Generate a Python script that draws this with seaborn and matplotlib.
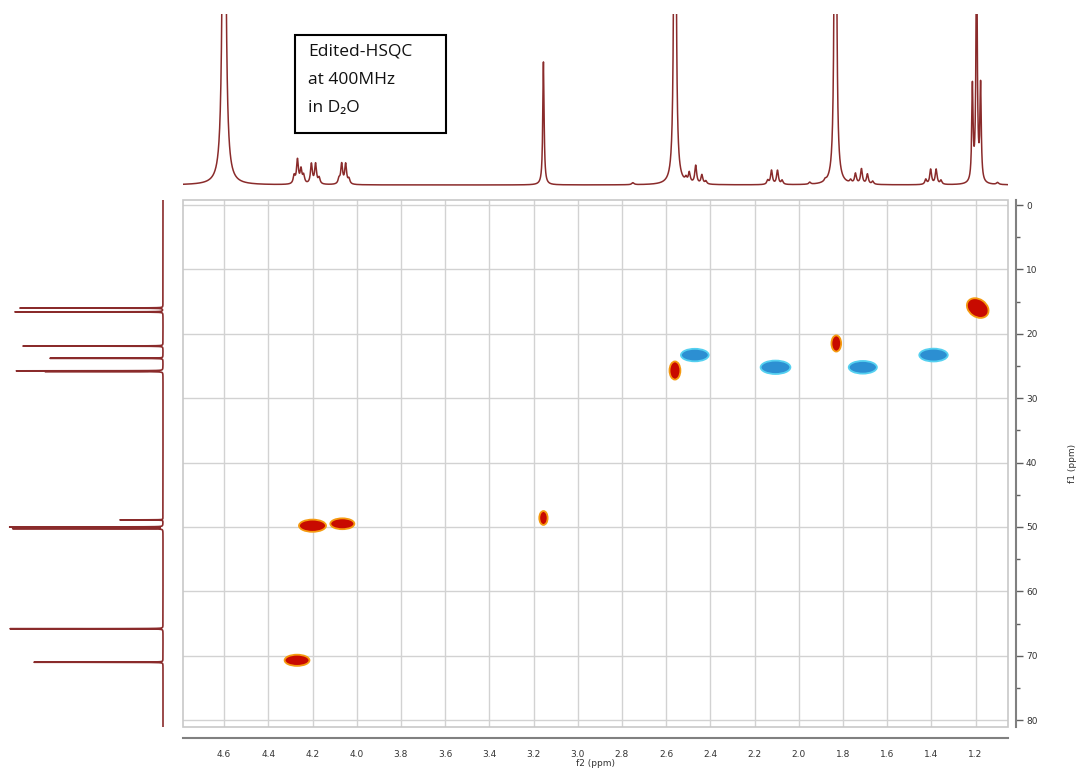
import numpy as np
import pandas as pd
import matplotlib
matplotlib.use('Agg')
import matplotlib.pyplot as plt
from matplotlib.path import Path
from matplotlib.patches import Rectangle
from matplotlib.transforms import Affine2D
from matplotlib.ticker import MultipleLocator
import seaborn as sns

# 1H projection (top trace): line positions (ppm), heights, half widths (ppm)
h_shift = [4.600, 4.283, 4.268, 4.252, 4.240, 4.205, 4.186, 4.170, 4.080, 4.068, 4.050, 4.035,
           3.155, 2.750, 2.560, 2.510, 2.495, 2.466, 2.438, 2.420, 2.140, 2.123, 2.096, 2.075,
           1.950, 1.880, 1.834, 1.765, 1.743, 1.716, 1.689, 1.665, 1.425, 1.403, 1.378, 1.356,
           1.214, 1.195, 1.177, 1.100]
h_height = [700, 8, 24, 14, 8, 20, 20, 6, 5, 20, 20, 5,
            123, 2, 900, 4, 10, 18, 9, 3, 4, 14, 14, 4,
            2, 2, 900, 3, 10, 15, 10, 3, 5, 15, 15, 4,
            95, 240, 95, 2]
h_width = [0.006] + [0.005] * 11 + [0.0035, 0.006, 0.0035] + [0.005] * 11 + [0.0035] + [0.005] * 9 + [0.0035] * 3 + [0.006]

# 13C projection (left trace)
c_shift = [16.0, 16.6, 21.9, 23.8, 25.75, 25.85, 48.9, 50.0, 50.25, 65.8, 71.0]
c_height = [143, 148, 140, 113, 145, 116, 43, 153, 150, 153, 129]

# HSQC cross peaks
xp_f2 = [1.19, 1.83, 2.56, 2.47, 2.105, 1.71, 1.39, 4.20, 4.065, 3.155, 4.27]
xp_f1 = [16.0, 21.5, 25.7, 23.3, 25.2, 25.2, 23.3, 49.8, 49.5, 48.6, 70.7]
xp_phase = ['pos', 'pos', 'pos', 'neg', 'neg', 'neg', 'neg', 'pos', 'pos', 'pos', 'pos']
xp_shape = ['tilt', 'tall', 'tall', 'wide', 'wide', 'wide', 'wide', 'wide', 'wide', 'tall', 'wide']
xp_size = [260, 135, 170, 400, 460, 410, 420, 380, 300, 100, 320]

W, H = 1076, 771


def px_box(x0, y0, x1, y1):
    return [x0 / W, 1 - y1 / H, (x1 - x0) / W, (y1 - y0) / H]


def lorentz(grid, pos, hgt, wid):
    out = np.zeros_like(grid)
    for p, h, w in zip(pos, hgt, wid):
        out += h * w ** 2 / ((grid - p) ** 2 + w ** 2)
    return out


sns.set_style('white')
plt.rcParams['font.family'] = ['DejaVu Sans']

fig = plt.figure(figsize=(W / 100, H / 100), dpi=100)
line_col = '#8a2b2b'

x_lim = (4.786, 1.053)
y_lim = (81.06, -0.78)

# main 2D panel
ax = fig.add_axes(px_box(183, 200, 1008, 727))

# cross peak markers (ellipses)
circ = Path.unit_circle()
markers = {
    'wide': circ.transformed(Affine2D().scale(1.0, 0.45)),
    'tall': circ.transformed(Affine2D().scale(0.6, 1.0)),
    'tilt': circ.transformed(Affine2D().scale(1.0, 0.75).rotate_deg(-35)),
}
peaks = pd.DataFrame({'f2': xp_f2, 'f1': xp_f1, 'phase': xp_phase,
                      'shape': xp_shape, 'size': xp_size})
phase_cols = {'pos': ('#c80a00', '#f59a10'), 'neg': ('#2c8fd2', '#55d0f0')}
for ph, (face, edge) in phase_cols.items():
    sub = peaks[peaks['phase'] == ph]
    sns.scatterplot(data=sub, x='f2', y='f1', style='shape', markers=markers,
                    size='size', sizes={v: v for v in sub['size']},
                    color=face, edgecolor=edge, linewidth=1.3, legend=False,
                    ax=ax, zorder=3)

ax.set_xlim(*x_lim)
ax.set_ylim(*y_lim)
ax.xaxis.set_major_locator(MultipleLocator(0.2))
ax.xaxis.set_minor_locator(MultipleLocator(0.1))
ax.yaxis.set_major_locator(MultipleLocator(10))
ax.yaxis.set_minor_locator(MultipleLocator(5))
ax.xaxis.set_major_formatter(matplotlib.ticker.FormatStrFormatter('%.1f'))
ax.grid(True, which='major', color='#d2d2d2', lw=1.0)
ax.set_axisbelow(True)

ax.yaxis.tick_right()
for s in ['top', 'left']:
    ax.spines[s].set_visible(False)
ax.spines['bottom'].set_position(('outward', 8))
ax.spines['right'].set_position(('outward', 6))
for s in ['bottom', 'right']:
    ax.spines[s].set_color('#808080')
    ax.spines[s].set_linewidth(1.5)
ax.add_patch(Rectangle((0, 0), 1, 1, transform=ax.transAxes, fill=False,
                       edgecolor='#c8c8c8', lw=1.2, clip_on=False))
ax.tick_params(axis='both', which='major', direction='out', length=5, width=1,
               color='#606060', labelsize=6.5, labelcolor='#333333')
ax.tick_params(axis='both', which='minor', direction='out', length=3, width=1, color='#606060')
ax.tick_params(axis='y', which='both', left=False, right=True, pad=2)
ax.set_xlabel('f2 (ppm)', fontsize=6.5, color='#333333', labelpad=0)
ax.set_ylabel('f1 (ppm)', fontsize=6.5, color='#333333', rotation=90)
ax.yaxis.set_label_position('right')
ax.yaxis.set_label_coords(1.073, 0.5)

# top 1H projection
ax_top = fig.add_axes(px_box(183, 14, 1008, 192))
grid_h = np.arange(x_lim[1], x_lim[0], 0.0004)
proton = pd.DataFrame({'ppm': grid_h, 'int': lorentz(grid_h, h_shift, h_height, h_width)})
sns.lineplot(data=proton, x='ppm', y='int', color=line_col, lw=1.1,
             estimator=None, sort=False, ax=ax_top)
ax_top.set_xlim(*x_lim)
ax_top.set_ylim(-7, 171)
ax_top.axis('off')

# left 13C projection
ax_left = fig.add_axes(px_box(0, 200, 170, 727))
grid_c = np.arange(y_lim[1], y_lim[0], 0.002)
carbon = pd.DataFrame({'ppm': grid_c,
                       'int': -lorentz(grid_c, c_shift, c_height, [0.012] * len(c_shift))})
sns.lineplot(data=carbon, x='int', y='ppm', orient='y', color=line_col, lw=1.2,
             estimator=None, sort=False, ax=ax_left)
ax_left.set_xlim(-163, 7)
ax_left.set_ylim(*y_lim)
ax_left.axis('off')

# annotation box
bx = px_box(295, 35, 446, 133)
fig.patches.append(Rectangle((bx[0], bx[1]), bx[2], bx[3], transform=fig.transFigure,
                             fill=False, edgecolor='black', lw=1.5))
for txt, yc in [('Edited-HSQC', 52), ('at 400MHz', 80), ('in D\u2082O', 108)]:
    fig.text(308 / W, 1 - yc / H, txt, ha='left', va='center', fontsize=12.5,
             family=['Open Sans', 'DejaVu Sans'], color='#111111')

fig.savefig('out.png', dpi=100)
